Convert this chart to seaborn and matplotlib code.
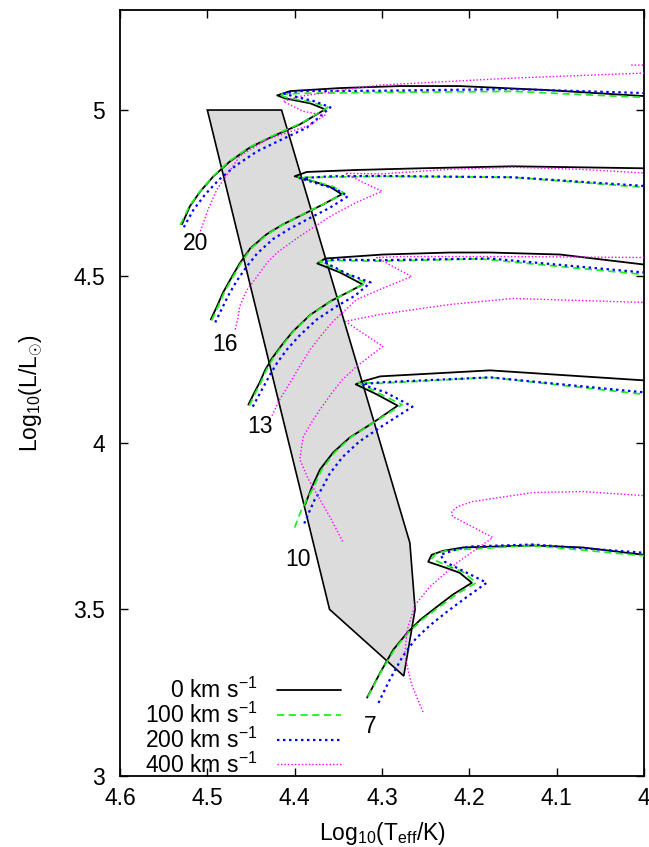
import matplotlib
matplotlib.use('Agg')
import matplotlib.pyplot as plt
import pandas as pd
import seaborn as sns

# instability strip outline
strip_logt = [4.500, 4.415, 4.268, 4.262, 4.275, 4.360]
strip_logl = [5.00, 5.00, 3.70, 3.50, 3.30, 3.50]

masses = [20, 16, 13, 10, 7]
velocities = [0, 100, 200, 400]
vel_labels = ['\u2007\u20070 km s$^{\\mathrm{-1}}$', '100 km s$^{\\mathrm{-1}}$',
              '200 km s$^{\\mathrm{-1}}$', '400 km s$^{\\mathrm{-1}}$']

# 20 Msun
t20_v0 = [4.529, 4.520, 4.508, 4.493, 4.474, 4.451, 4.425, 4.394, 4.365, 4.382, 4.411, 4.420, 4.405, 4.348, 4.279, 4.211, 4.111, 4.000]
l20_v0 = [4.657, 4.711, 4.756, 4.801, 4.846, 4.888, 4.921, 4.957, 5.002, 5.020, 5.035, 5.044, 5.057, 5.066, 5.072, 5.072, 5.060, 5.042]
t20_v100 = [4.531, 4.521, 4.509, 4.494, 4.475, 4.452, 4.425, 4.393, 4.362, 4.381, 4.410, 4.418, 4.394, 4.302, 4.150, 4.000]
l20_v100 = [4.655, 4.709, 4.754, 4.800, 4.846, 4.888, 4.923, 4.960, 5.008, 5.024, 5.038, 5.047, 5.050, 5.053, 5.056, 5.038]
t20_v200 = [4.527, 4.516, 4.503, 4.487, 4.467, 4.443, 4.416, 4.386, 4.359, 4.377, 4.405, 4.412, 4.394, 4.302, 4.150, 4.000]
l20_v200 = [4.648, 4.700, 4.745, 4.790, 4.834, 4.876, 4.910, 4.947, 5.008, 5.026, 5.044, 5.050, 5.057, 5.058, 5.063, 5.051]
t20_v400 = [4.508, 4.499, 4.489, 4.475, 4.463, 4.432, 4.397, 4.386, 4.365, 4.390, 4.413, 4.394, 4.337, 4.302, 4.150, 4.000, 3.990, 3.990, 4.016]
l20_v400 = [4.636, 4.702, 4.762, 4.815, 4.861, 4.912, 4.942, 4.951, 4.984, 4.996, 5.026, 5.041, 5.063, 5.075, 5.096, 5.111, 5.120, 5.135, 5.135]

# 16 Msun
t16_v0 = [4.496, 4.489, 4.482, 4.473, 4.463, 4.451, 4.432, 4.413, 4.390, 4.367, 4.346, 4.360, 4.380, 4.400, 4.386, 4.329, 4.256, 4.150, 4.000]
l16_v0 = [4.371, 4.410, 4.452, 4.494, 4.539, 4.584, 4.627, 4.657, 4.687, 4.717, 4.747, 4.770, 4.787, 4.801, 4.814, 4.820, 4.825, 4.831, 4.825]
t16_v100 = [4.495, 4.488, 4.481, 4.472, 4.462, 4.450, 4.431, 4.412, 4.389, 4.365, 4.343, 4.357, 4.378, 4.396, 4.371, 4.302, 4.150, 4.000]
l16_v100 = [4.368, 4.408, 4.450, 4.493, 4.538, 4.584, 4.627, 4.658, 4.689, 4.720, 4.750, 4.771, 4.786, 4.798, 4.798, 4.801, 4.798, 4.768]
t16_v200 = [4.491, 4.484, 4.476, 4.467, 4.456, 4.443, 4.425, 4.406, 4.383, 4.360, 4.339, 4.353, 4.374, 4.394, 4.359, 4.302, 4.150, 4.000]
l16_v200 = [4.362, 4.400, 4.443, 4.484, 4.526, 4.569, 4.612, 4.643, 4.675, 4.706, 4.741, 4.763, 4.779, 4.795, 4.801, 4.802, 4.798, 4.772]
t16_v400 = [4.468, 4.465, 4.463, 4.455, 4.443, 4.432, 4.420, 4.394, 4.359, 4.329, 4.300, 4.322, 4.342, 4.302, 4.222, 4.150, 4.073, 4.000]
l16_v400 = [4.341, 4.375, 4.410, 4.458, 4.500, 4.540, 4.572, 4.621, 4.681, 4.723, 4.756, 4.783, 4.810, 4.808, 4.822, 4.828, 4.822, 4.811]

# 13 Msun
t13_v0 = [4.453, 4.446, 4.440, 4.434, 4.426, 4.415, 4.402, 4.382, 4.358, 4.338, 4.322, 4.348, 4.374, 4.365, 4.299, 4.222, 4.176, 4.096, 4.000]
l13_v0 = [4.115, 4.152, 4.182, 4.218, 4.254, 4.293, 4.335, 4.385, 4.427, 4.454, 4.476, 4.512, 4.539, 4.554, 4.566, 4.572, 4.572, 4.566, 4.536]
t13_v100 = [4.452, 4.445, 4.439, 4.433, 4.425, 4.414, 4.401, 4.381, 4.356, 4.336, 4.318, 4.345, 4.372, 4.360, 4.302, 4.188, 4.000]
l13_v100 = [4.112, 4.150, 4.180, 4.216, 4.253, 4.293, 4.336, 4.386, 4.429, 4.457, 4.480, 4.514, 4.545, 4.548, 4.546, 4.553, 4.506]
t13_v200 = [4.448, 4.441, 4.435, 4.428, 4.420, 4.409, 4.395, 4.375, 4.351, 4.331, 4.313, 4.340, 4.367, 4.354, 4.302, 4.176, 4.000]
l13_v200 = [4.109, 4.143, 4.172, 4.206, 4.241, 4.280, 4.321, 4.370, 4.412, 4.442, 4.482, 4.508, 4.545, 4.551, 4.549, 4.554, 4.512]
t13_v400 = [4.426, 4.417, 4.405, 4.394, 4.382, 4.369, 4.356, 4.329, 4.294, 4.266, 4.279, 4.306, 4.279, 4.165, 4.000]
l13_v400 = [4.082, 4.131, 4.182, 4.231, 4.281, 4.325, 4.365, 4.431, 4.470, 4.500, 4.518, 4.557, 4.560, 4.560, 4.557]

# 10 Msun
t10_v0 = [4.388, 4.380, 4.371, 4.356, 4.337, 4.310, 4.282, 4.306, 4.330, 4.322, 4.302, 4.176, 4.000]
l10_v0 = [3.815, 3.869, 3.920, 3.971, 4.016, 4.061, 4.112, 4.146, 4.176, 4.185, 4.200, 4.218, 4.188]
t10_v100 = [4.400, 4.393, 4.386, 4.378, 4.369, 4.354, 4.335, 4.308, 4.277, 4.303, 4.327, 4.302, 4.176, 4.000]
l10_v100 = [3.746, 3.794, 3.830, 3.869, 3.920, 3.972, 4.018, 4.064, 4.115, 4.148, 4.182, 4.179, 4.197, 4.146]
t10_v200 = [4.389, 4.383, 4.377, 4.369, 4.360, 4.345, 4.326, 4.299, 4.265, 4.296, 4.323, 4.302, 4.176, 4.000]
l10_v200 = [3.758, 3.795, 3.830, 3.862, 3.907, 3.958, 4.004, 4.052, 4.109, 4.152, 4.176, 4.182, 4.197, 4.152]
t10_v400 = [4.345, 4.358, 4.371, 4.385, 4.394, 4.392, 4.390, 4.381, 4.371, 4.358, 4.345, 4.329, 4.299, 4.342, 4.302, 4.222, 4.150, 4.000]
l10_v400 = [3.704, 3.770, 3.830, 3.895, 3.950, 3.990, 4.019, 4.060, 4.100, 4.148, 4.191, 4.230, 4.290, 4.365, 4.386, 4.416, 4.434, 4.422]

# 7 Msun
t7_v0 = [4.317, 4.302, 4.287, 4.271, 4.256, 4.237, 4.219, 4.197, 4.211, 4.230, 4.247, 4.243, 4.230, 4.207, 4.127, 4.070, 4.000]
l7_v0 = [3.235, 3.310, 3.379, 3.430, 3.469, 3.508, 3.544, 3.580, 3.610, 3.628, 3.643, 3.664, 3.676, 3.686, 3.692, 3.686, 3.664]
t7_v100 = [4.316, 4.301, 4.285, 4.269, 4.253, 4.233, 4.214, 4.192, 4.207, 4.226, 4.243, 4.238, 4.225, 4.207, 4.127, 4.000]
l7_v100 = [3.238, 3.313, 3.382, 3.433, 3.471, 3.510, 3.547, 3.580, 3.612, 3.632, 3.652, 3.668, 3.677, 3.680, 3.692, 3.661]
t7_v200 = [4.304, 4.291, 4.276, 4.261, 4.245, 4.226, 4.205, 4.180, 4.205, 4.228, 4.233, 4.216, 4.199, 4.127, 4.000]
l7_v200 = [3.219, 3.289, 3.360, 3.413, 3.452, 3.492, 3.533, 3.580, 3.613, 3.643, 3.664, 3.679, 3.689, 3.695, 3.670]
t7_v400 = [4.253, 4.266, 4.274, 4.271, 4.262, 4.245, 4.214, 4.173, 4.219, 4.220, 4.213, 4.196, 4.127, 4.070, 4.001]
l7_v400 = [3.192, 3.274, 3.364, 3.439, 3.514, 3.568, 3.640, 3.716, 3.779, 3.794, 3.809, 3.824, 3.851, 3.854, 3.842]

# mass labels
label_t = [4.514, 4.480, 4.440, 4.396, 4.314]
label_l = [4.600, 4.296, 4.049, 3.649, 3.147]

tracks = {
    (20, 0): (t20_v0, l20_v0), (20, 100): (t20_v100, l20_v100),
    (20, 200): (t20_v200, l20_v200), (20, 400): (t20_v400, l20_v400),
    (16, 0): (t16_v0, l16_v0), (16, 100): (t16_v100, l16_v100),
    (16, 200): (t16_v200, l16_v200), (16, 400): (t16_v400, l16_v400),
    (13, 0): (t13_v0, l13_v0), (13, 100): (t13_v100, l13_v100),
    (13, 200): (t13_v200, l13_v200), (13, 400): (t13_v400, l13_v400),
    (10, 0): (t10_v0, l10_v0), (10, 100): (t10_v100, l10_v100),
    (10, 200): (t10_v200, l10_v200), (10, 400): (t10_v400, l10_v400),
    (7, 0): (t7_v0, l7_v0), (7, 100): (t7_v100, l7_v100),
    (7, 200): (t7_v200, l7_v200), (7, 400): (t7_v400, l7_v400),
}

rows = []
for (m, v), (tt, ll) in tracks.items():
    for i, (t, l) in enumerate(zip(tt, ll)):
        rows.append({'mass': m, 'vel': v, 'step': i, 'logT': t, 'logL': l})
df = pd.DataFrame(rows)

sns.set_style('ticks')
plt.rcParams['font.family'] = ['Liberation Sans', 'DejaVu Sans']
plt.rcParams['mathtext.fontset'] = 'custom'
plt.rcParams['mathtext.rm'] = 'Liberation Sans'
plt.rcParams['mathtext.it'] = 'Liberation Sans:italic'
plt.rcParams['mathtext.bf'] = 'Liberation Sans:bold'
plt.rcParams['text.color'] = 'black'
plt.rcParams['axes.labelcolor'] = 'black'

FS = 16.5

styles = {
    0: dict(color='black', linewidth=1.3, linestyle='-'),
    100: dict(color='#22ee22', linewidth=1.3, linestyle=(0, (4, 2.5))),
    200: dict(color='#0000ff', linewidth=1.6, linestyle=(0, (1.1, 1.6))),
    400: dict(color='#ff00ff', linewidth=1.0, linestyle=(0, (1, 1.5))),
}

fig, ax = plt.subplots(figsize=(6.49, 8.47), dpi=100)
fig.subplots_adjust(left=0.185, right=0.992, top=0.988, bottom=0.084)

ax.fill(strip_logt, strip_logl, facecolor='#dcdcdc', edgecolor='black', linewidth=1.2, zorder=1)

handles = []
for v in velocities:
    n_before = len(ax.lines)
    sns.lineplot(data=df[df['vel'] == v], x='logT', y='logL', units='mass',
                 estimator=None, sort=False, ax=ax, zorder=3, **styles[v])
    handles.append(ax.lines[n_before])

for m, t, l in zip(masses, label_t, label_l):
    ax.text(t, l, str(m), ha='center', va='center', fontsize=FS)

ax.set_xlim(4.6, 4.0)
ax.set_ylim(3.0, 5.3)
ax.set_xticks([4.6, 4.5, 4.4, 4.3, 4.2, 4.1, 4.0])
ax.set_xticklabels(['4.6', '4.5', '4.4', '4.3', '4.2', '4.1', '4'])
ax.set_yticks([3.0, 3.5, 4.0, 4.5, 5.0])
ax.set_yticklabels(['3', '3.5', '4', '4.5', '5'])
ax.tick_params(direction='in', length=6, width=1, labelsize=FS,
               top=True, right=True, colors='black')
ax.tick_params(axis='x', pad=8)
ax.tick_params(axis='y', pad=11)
for s in ax.spines.values():
    s.set_linewidth(1.3)
    s.set_color('black')

ax.set_xlabel(r'Log$_{10}$(T$_{\mathrm{eff}}$/K)', fontsize=FS, labelpad=7)
ax.set_ylabel(r'Log$_{10}$(L/L$_{\odot}$)', fontsize=FS, labelpad=20)

ax.legend(handles, vel_labels, loc='lower left', bbox_to_anchor=(0.022, -0.02),
          markerfirst=False, frameon=False, fontsize=FS, handlelength=2.8,
          labelspacing=-0.02, handletextpad=0.85, borderaxespad=0.2)

fig.savefig('out.png', dpi=100)
